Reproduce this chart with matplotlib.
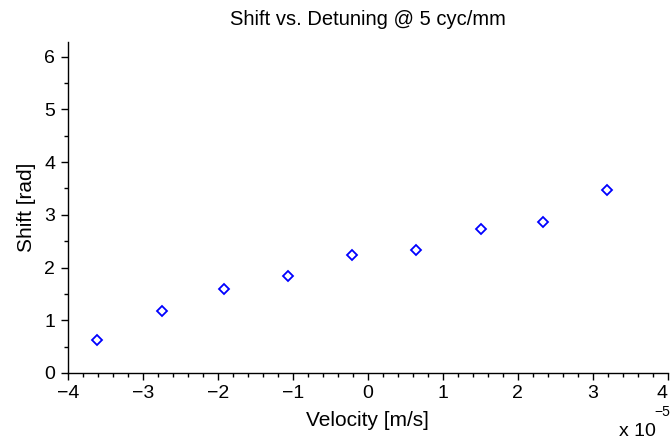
import numpy as np
import matplotlib
matplotlib.use('Agg')
import matplotlib.pyplot as plt
from matplotlib.ticker import MultipleLocator, FuncFormatter

plt.rcParams['font.family'] = ['Liberation Sans', 'DejaVu Sans']

# velocity in units of 1e-5 m/s
velocity = [-3.61, -2.75, -1.92, -1.07, -0.21, 0.64, 1.51, 2.33, 3.19]
shift = [0.63, 1.18, 1.59, 1.84, 2.24, 2.33, 2.73, 2.87, 3.47]

fig = plt.figure(figsize=(6.71, 4.45), dpi=100)
ax = fig.add_axes([0.101, 0.162, 0.8945, 0.744])
ax.plot(velocity, shift, linestyle='none', marker='D', markersize=5,
        markerfacecolor='none', markeredgecolor='blue', markeredgewidth=1.3)

ax.set_xlim(-4, 4)
ax.set_ylim(0, 2 * np.pi)
ax.xaxis.set_major_locator(MultipleLocator(1))
ax.xaxis.set_minor_locator(MultipleLocator(0.2))
ax.yaxis.set_major_locator(MultipleLocator(1))
ax.yaxis.set_minor_locator(MultipleLocator(0.5))
ax.xaxis.set_major_formatter(FuncFormatter(lambda v, p: f'{v:.0f}'.replace('-', '\u2212')))
ax.yaxis.set_major_formatter(FuncFormatter(lambda v, p: f'{v:.0f}'))

for s in ['top', 'right']:
    ax.spines[s].set_visible(False)
for s in ['left', 'bottom']:
    ax.spines[s].set_linewidth(1.0)
ax.tick_params(which='major', direction='out', length=5, width=1.0, labelsize=14, pad=4)
ax.tick_params(which='minor', direction='out', length=3, width=1.0)

ax.set_xlabel('Velocity [m/s]', fontsize=15, labelpad=6)
ax.set_ylabel('Shift [rad]', fontsize=15, labelpad=6)
ax.set_title('Shift vs. Detuning @ 5 cyc/mm', fontsize=14.5, pad=12)

# keep the last x tick label inside the figure
fig.canvas.draw()
for t in ax.xaxis.get_major_ticks():
    if abs(t.get_loc() - 4) < 1e-9:
        t.label1.set_horizontalalignment('right')

fig.text(0.95, 0.03, 'x 10', fontsize=14, ha='center', va='center')
fig.text(0.987, 0.075, '\u22125', fontsize=10, ha='center', va='center')

fig.savefig('out.png', dpi=100)
